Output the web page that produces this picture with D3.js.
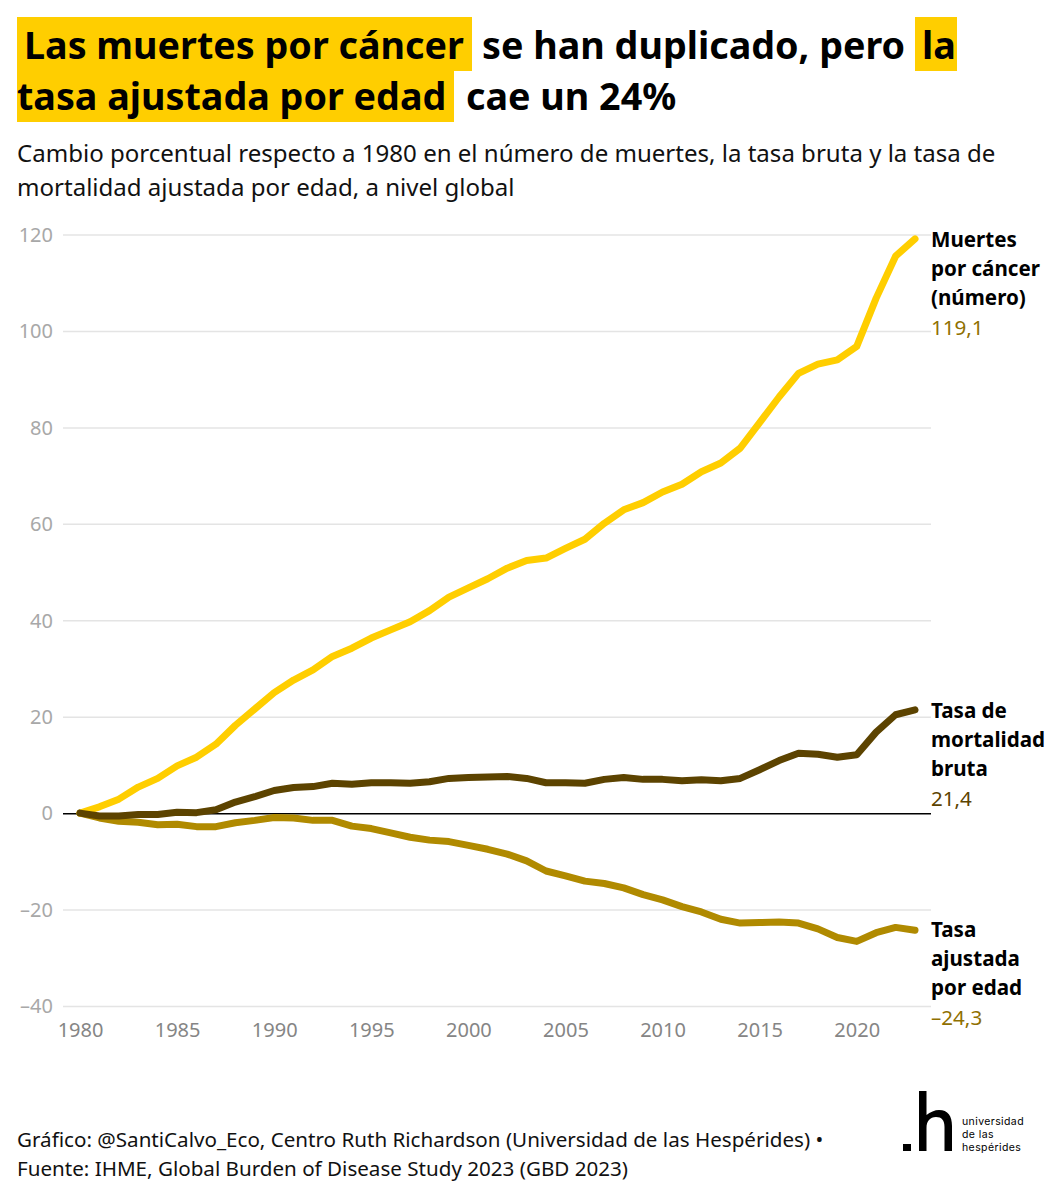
<!DOCTYPE html>
<html><head><meta charset="utf-8">
<script src="https://cdn.jsdelivr.net/npm/d3@7"></script>
<style>html,body{margin:0;padding:0;background:#fff}svg{display:block}text{font-family:"Noto Sans",sans-serif}</style>
</head><body><svg id="c" width="1063" height="1200"></svg>
<script>
const years = d3.range(1980, 2024);
const deaths = [0,1.3,2.9,5.4,7.2,9.8,11.6,14.3,18.2,21.6,25,27.6,29.7,32.5,34.2,36.3,38,39.7,42,44.8,46.7,48.6,50.8,52.4,52.9,54.9,56.8,60.1,62.9,64.4,66.6,68.2,70.8,72.6,75.7,81,86.3,91.2,93.1,94,96.8,106.8,115.5,119.1];
const crude = [0,-.6,-.6,-.3,-.3,.2,.1,.7,2.3,3.4,4.7,5.3,5.5,6.2,6,6.3,6.3,6.2,6.5,7.2,7.4,7.5,7.6,7.2,6.3,6.3,6.2,7,7.4,7,7,6.7,6.9,6.7,7.2,9,10.9,12.4,12.2,11.6,12.1,16.8,20.4,21.4];
const adjusted = [0,-1,-1.7,-1.9,-2.4,-2.3,-2.8,-2.8,-2,-1.5,-.9,-1,-1.5,-1.5,-2.7,-3.2,-4.1,-5,-5.6,-5.9,-6.7,-7.5,-8.5,-9.9,-12,-13,-14.1,-14.6,-15.5,-16.9,-18,-19.4,-20.5,-22,-22.8,-22.7,-22.6,-22.8,-24,-25.8,-26.6,-24.8,-23.7,-24.3];
const yTicks = [-40,-20,0,20,40,60,80,100,120];
const xTicks = [1980,1985,1990,1995,2000,2005,2010,2015,2020];
const colors = {adjusted:"#b08a00", crude:"#5c4300", deaths:"#ffce00"};
const labels = [
 {lines:["Muertes","por cáncer","(número)"], value:"119,1", top:247, color:"#8f7000"},
 {lines:["Tasa de","mortalidad","bruta"], value:"21,4", top:718, color:"#5c4300"},
 {lines:["Tasa","ajustada","por edad"], value:"–24,3", top:937, color:"#8f7000"}
];
const fmt = v => v < 0 ? "–" + Math.abs(v) : String(v);

const svg = d3.select("#c");
const x = d3.scaleLinear().domain([1980,2023]).range([80,915]);
const y = d3.scaleLinear().domain([-40,120]).range([1006,234.5]);

// Title
const hl = "#ffce00";
[[17,17,455,54],[915,17,42,54],[17,71,437,51]].forEach(r=>svg.append("rect").attr("x",r[0]).attr("y",r[1]).attr("width",r[2]).attr("height",r[3]).attr("fill",hl));
const title = [
 {t:"Las muertes por cáncer",x:24,y:59},{t:"se han duplicado, pero",x:482,y:59},{t:"la",x:922,y:59},
 {t:"tasa ajustada por edad",x:17,y:110},{t:"cae un 24%",x:466,y:110}];
title.forEach(d=>svg.append("text").attr("x",d.x).attr("y",d.y).attr("font-size",37.7).attr("font-weight",700).attr("fill","#000").text(d.t));
["Cambio porcentual respecto a 1980 en el número de muertes, la tasa bruta y la tasa de","mortalidad ajustada por edad, a nivel global"].forEach((t,i)=>
 svg.append("text").attr("x",17).attr("y",162+i*33.5).attr("font-size",24.05).attr("fill","#111").text(t));

// Y axis
const gy = svg.append("g").attr("transform","translate(931,0)").call(d3.axisLeft(y).tickValues(yTicks).tickSize(868).tickFormat(fmt));
gy.select(".domain").remove();
gy.selectAll("line").attr("stroke",d=>d===0?"#000":"#e4e4e4").attr("stroke-width",1.5);
gy.selectAll("text").attr("font-size",20).attr("fill","#a8a8a8").attr("x",-878).attr("dy","0.34em").style("font-family",'"Noto Sans",sans-serif');

// X axis
const gx = svg.append("g").attr("transform","translate(0,1006)").call(d3.axisBottom(x).tickValues(xTicks).tickSize(0).tickFormat(d3.format("d")));
gx.select(".domain").remove();
gx.selectAll("text").attr("font-size",20).attr("fill","#858585").attr("y",16.5).attr("dy","0.71em").style("font-family",'"Noto Sans",sans-serif');

// Lines
const line = d3.line().x((d,i)=>x(years[i])).y(d=>y(d));
[[adjusted,colors.adjusted],[deaths,colors.deaths],[crude,colors.crude]].forEach(([s,c])=>
 svg.append("path").datum(s).attr("d",line).attr("fill","none").attr("stroke",c).attr("stroke-width",7).attr("stroke-linecap","round").attr("stroke-linejoin","round"));

// End labels
labels.forEach(l=>{
 l.lines.forEach((t,i)=>svg.append("text").attr("x",931).attr("y",l.top+i*29.2).attr("font-size",20.6).attr("font-weight",700).attr("fill","#000").text(t));
 svg.append("text").attr("x",931).attr("y",l.top+3*29.2).attr("font-size",20.6).attr("fill",l.color).text(l.value);
});

// Footer
["Gráfico: @SantiCalvo_Eco, Centro Ruth Richardson (Universidad de las Hespérides) •","Fuente: IHME, Global Burden of Disease Study 2023 (GBD 2023)"].forEach((t,i)=>
 svg.append("text").attr("x",17).attr("y",1147+i*29).attr("font-size",20.6).attr("fill","#111").text(t));

// Logo
const logo = svg.append("g").attr("fill","#000");
logo.append("rect").attr("x",903).attr("y",1144).attr("width",8).attr("height",7);
logo.append("path").attr("d","M919 1091H926.500V1115C930 1112 935 1110 939 1110C948 1110 952 1116 952 1126V1151H944.500V1127C944.500 1120 941.500 1117 936 1117C930 1117 926.500 1121 926.500 1128V1151H919Z");
["universidad","de las","hespérides"].forEach((t,i)=>
 logo.append("text").attr("x",962).attr("y",1125+i*13).attr("font-size",10.5).style("font-family","Inter,sans-serif").attr("letter-spacing",0.4).text(t));
</script></body></html>
